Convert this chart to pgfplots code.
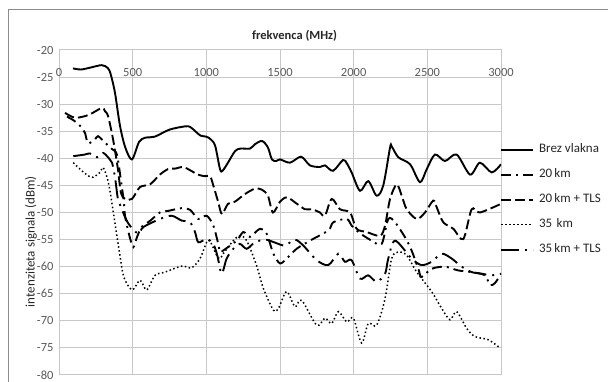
\documentclass[border=0pt]{standalone}
\usepackage{pgfplots}
\pgfplotsset{compat=1.18}
\usepackage{fontspec}
\setmainfont{Carlito}
\definecolor{gridc}{HTML}{C8C8C8}
\definecolor{tickc}{HTML}{595959}
\definecolor{framec}{HTML}{8C8C8C}
\begin{document}
\begin{tikzpicture}
\useasboundingbox (0,0) rectangle (608pt,382pt);
\clip (0,0) rectangle (608pt,382pt);
\draw[framec, line width=1pt] (8pt,-5pt) -- (8pt,372pt) -- (620pt,372pt);
\begin{axis}[
  at={(59pt,7pt)}, anchor=south west,
  width=442pt, height=325pt, scale only axis,
  xmin=0, xmax=3000, ymin=-80, ymax=-20,
  xtick={0,500,...,3000}, ytick={-80,-75,...,-20},
  grid=major, grid style={gridc, line width=1pt},
  axis line style={gridc, line width=1pt},
  major tick length=0pt,
  /pgf/number format/assume math mode=true,
  /pgf/number format/1000 sep={},
  tick label style={font=\fontsize{12.5}{14}\selectfont, text=tickc},
  xticklabel pos=upper,
  xticklabel style={anchor=center, yshift=-22pt},
  yticklabel style={xshift=-2pt},
  xlabel={\textbf{frekvenca (MHz)}},
  xlabel style={at={(axis description cs:0.533,1)}, anchor=center, yshift=14pt, font=\fontsize{12.5}{14}\selectfont, text=black!85},
  ylabel={intenziteta signala (dBm)},
  ylabel style={at={(axis description cs:-0.0633,0.41)}, anchor=center, font=\fontsize{13}{15}\selectfont, text=black!85},
  legend style={at={(axis description cs:0.9977,0.7125)}, anchor=north west, draw=none, fill=none,
    inner sep=0pt, row sep=13pt, column sep=5pt,
    nodes={inner sep=0pt, text height=9pt, text depth=3pt, font=\fontsize{13}{15}\selectfont, text=black!85}},
  legend cell align=left,
  legend image code/.code={\draw[#1] (0pt,0pt) -- (32pt,0pt);},
  every axis plot/.append style={line width=1.9pt, black},
]
% Brez vlakna
\addplot[solid, smooth, tension=0.5] coordinates {
(95,-23.4)(150,-23.6)(220,-23.2)(290,-22.8)(330,-23.3)(350,-24.4)(380,-27.9)(414,-34)(450,-38)(495,-40.2)(543,-37)(584,-36.2)(650,-36)(750,-34.7)(855,-34.1)(890,-34.2)(925,-35)(960,-35.8)(1000,-36)(1030,-36.5)(1060,-37.7)(1093,-42)(1110,-42.3)(1147,-40.8)(1194,-38.7)(1230,-38.2)(1296,-38.2)(1330,-37.4)(1378,-36.8)(1418,-38)(1445,-40.2)(1475,-40.5)(1500,-40.2)(1568,-40.8)(1643,-39.7)(1703,-41.3)(1771,-41.6)(1805,-41.3)(1860,-42.3)(1928,-40.3)(1955,-41)(1986,-42.6)(2043,-46)(2099,-44.2)(2156,-46.9)(2201,-45)(2247,-38)(2258,-37.8)(2303,-39.8)(2383,-41.1)(2450,-44.4)(2496,-42)(2552,-39.3)(2620,-40.5)(2699,-39.3)(2790,-43)(2857,-40.8)(2937,-42.6)(3000,-41.1)
};
\addlegendentry{Brez vlakna}
% 20 km
\addplot[dash pattern=on 10pt off 5pt on 2pt off 5pt, smooth, tension=0.5] coordinates {
(54,-32.3)(100,-33)(143,-34)(176,-35.3)(197,-37.2)(245,-36.5)(265,-35.9)(312,-37.1)(360,-38.3)(393,-39.3)(420,-44)(440,-48)(448,-50.6)(475,-54)(504,-56.4)(530,-54.5)(561,-52.7)(620,-51.5)(685,-50)(742,-49.7)(833,-49.2)(889,-49.5)(946,-51.2)(1002,-50.6)(1047,-52.4)(1081,-55.8)(1093,-57.3)(1115,-57)(1206,-55.2)(1251,-53.6)(1296,-54.5)(1364,-53)(1409,-53.9)(1455,-57.6)(1500,-59.4)(1545,-58.5)(1613,-56.7)(1703,-55.2)(1828,-53.3)(1862,-51.8)(1953,-51.2)(1986,-52.4)(2031,-53.6)(2122,-55.2)(2190,-55.8)(2235,-51.2)(2281,-51.8)(2349,-54.6)(2393,-57)(2440,-60.5)(2461,-61.9)(2529,-60.4)(2620,-60)(2710,-60.7)(2801,-61)(2891,-61.6)(2925,-63.4)(2960,-63)(3000,-61.3)
};
\addlegendentry{20\,km}
% 20 km + TLS
\addplot[dash pattern=on 10pt off 4pt, smooth, tension=0.5] coordinates {
(41,-31.6)(109,-32.5)(200,-32)(290,-30.7)(312,-31.3)(333,-32.2)(367,-36.5)(400,-42)(420,-46.3)(448,-47.5)(495,-47.5)(550,-45.3)(618,-44.8)(685,-43)(740,-42)(787,-41.9)(842,-41.6)(890,-42.2)(943,-43)(990,-43.3)(1025,-43.3)(1045,-44.8)(1080,-48)(1106,-50.3)(1147,-48.4)(1194,-48)(1262,-46.6)(1330,-45.6)(1378,-45.8)(1418,-46.9)(1452,-50)(1500,-48)(1548,-47.2)(1615,-48.4)(1670,-49.4)(1717,-49.4)(1771,-50)(1805,-50.6)(1851,-47.5)(1907,-49.4)(1975,-50)(2020,-53)(2088,-53.6)(2179,-54.3)(2213,-52.4)(2247,-47.5)(2292,-44.8)(2326,-46.9)(2360,-49.4)(2428,-51.2)(2484,-50)(2540,-47.8)(2563,-49)(2608,-51.8)(2676,-53)(2744,-54.9)(2801,-49.4)(2857,-50)(3000,-48.4)
};
\addlegendentry{20\,km + TLS}
% 35 km
\addplot[line width=1.5pt, dash pattern=on 1.5pt off 2.5pt, smooth, tension=0.5] coordinates {
(97,-40.8)(143,-42)(197,-43.2)(231,-43.5)(278,-42.6)(299,-41.7)(326,-43.5)(346,-46)(380,-52)(414,-58)(441,-62)(497,-64.3)(550,-62.5)(595,-64.3)(652,-61.6)(720,-61)(833,-59.9)(900,-60.2)(957,-58.5)(1002,-55.5)(1025,-55.3)(1070,-57.9)(1093,-58.5)(1115,-57.6)(1183,-55.2)(1228,-54.3)(1274,-55.2)(1341,-59.8)(1387,-64)(1455,-68)(1489,-67.7)(1545,-64.6)(1602,-67.4)(1647,-66.2)(1749,-70.8)(1805,-69.5)(1851,-70.5)(1896,-68.3)(1953,-70.2)(1998,-69.5)(2054,-74.1)(2099,-70.5)(2156,-70.8)(2213,-65.9)(2258,-58.5)(2303,-57.3)(2360,-57.9)(2428,-61)(2529,-64.6)(2597,-67.7)(2654,-69.8)(2699,-68.3)(2767,-71.4)(2823,-72.9)(2914,-73.5)(2993,-75)
};
\addlegendentry{35\,\,km}
% 35 km + TLS
\addplot[dash pattern=on 18pt off 6pt on 2pt off 6pt, smooth, tension=0.5] coordinates {
(97,-39.6)(176,-39.3)(210,-39.1)(258,-39.8)(299,-39)(339,-40)(360,-40.8)(380,-43.5)(400,-47.5)(420,-49)(470,-52)(538,-53.9)(572,-52.7)(685,-51.2)(765,-50.6)(833,-51.5)(889,-51.8)(923,-53.6)(946,-55.5)(1002,-54.9)(1047,-55.8)(1075,-58)(1104,-61.3)(1138,-58.5)(1183,-56.7)(1228,-55.8)(1274,-56.7)(1330,-55.5)(1400,-55)(1460,-55.5)(1534,-56.1)(1600,-55)(1658,-56.1)(1749,-58.8)(1828,-59.7)(1896,-57.6)(1941,-59.1)(1986,-58.8)(2043,-62.2)(2099,-61.6)(2156,-62.8)(2213,-61.3)(2235,-58.5)(2281,-55.2)(2393,-58.5)(2461,-59.7)(2529,-59.1)(2597,-57.6)(2665,-58.5)(2733,-60)(2801,-61)(2869,-61.3)(2937,-61.6)(3000,-61.3)
};
\addlegendentry{35\,km + TLS}
\end{axis}
\end{tikzpicture}
\end{document}
